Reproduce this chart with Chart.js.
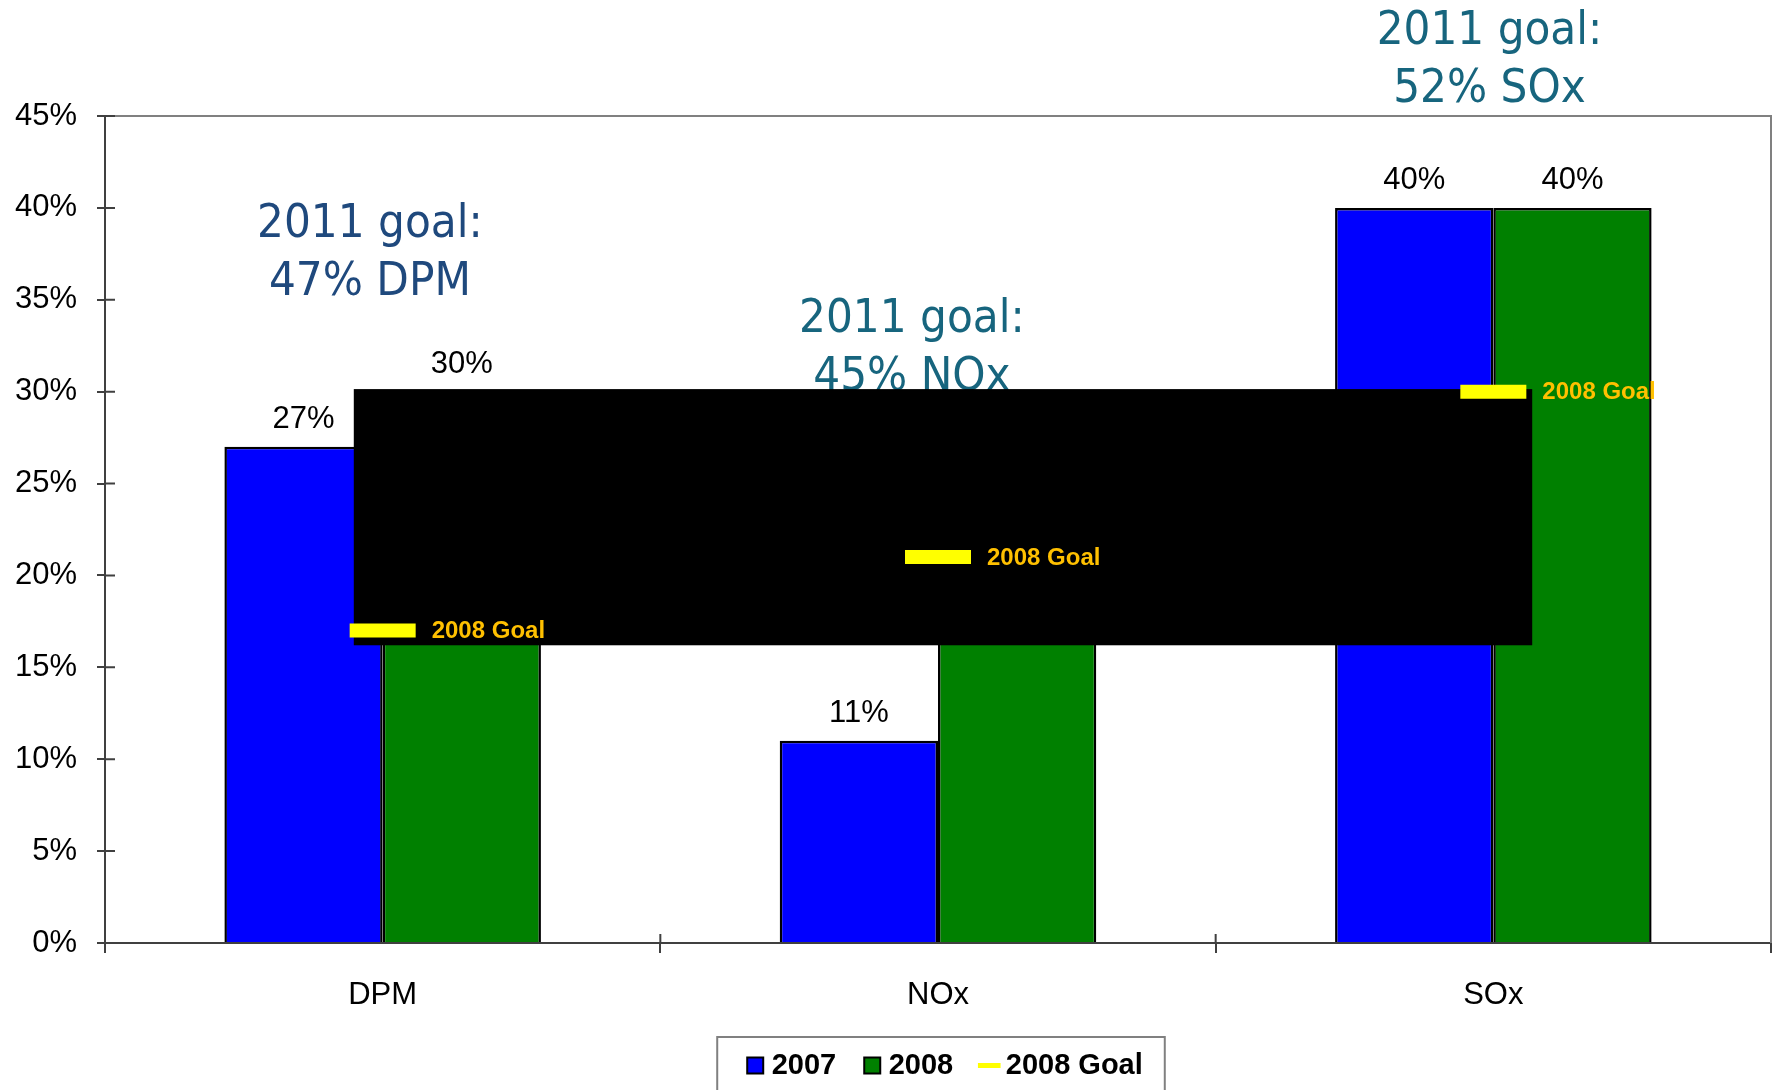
<!DOCTYPE html>
<html>
<head>
<meta charset="utf-8">
<script src="https://cdn.jsdelivr.net/npm/chart.js@4"></script>
<style>
  html, body { margin: 0; padding: 0; background: #fff; }
  canvas { display: block; }
</style>
</head>
<body>
<canvas id="myChart" width="1773" height="1090"></canvas>
<script>
const categories = ['DPM', 'NOx', 'SOx'];
const values2007 = [27, 11, 40];
const values2008 = [30, 22, 40];
const goals2008 = [17, 21, 30];
const yTicks = [0, 5, 10, 15, 20, 25, 30, 35, 40, 45];

// 2011 goal notes: category position and value of the first line
const goalNotes = [
    { cat: -0.023, y: 39.1, lines: ['2011 goal:', '47% DPM'], color: '#1F497D' },
    { cat: 0.953, y: 33.9, lines: ['2011 goal:', '45% NOx'], color: '#17657E' },
    { cat: 1.993, y: 49.6, lines: ['2011 goal:', '52% SOx'], color: '#17657E' }
];
// black block covering the middle of the original picture (category / value units)
const blackBox = { x0: -0.052, x1: 2.07, y0: 16.2, y1: 30.14 };

const font = 'Arial, "Liberation Sans", sans-serif';
const axisColor = '#404040';

const extras = {
    id: 'extras',
    afterLayout(chart) {
        // legend sits a bit right of centre in the original
        chart.legend.left += 10;
        chart.legend.right += 10;
    },
    beforeDatasetDraw(chart, args) {
        if (args.index !== 2) return;
        const { ctx } = chart;
        const x = chart.scales.x, y = chart.scales.y;
        ctx.save();
        // value labels above bars
        ctx.font = '31px ' + font;
        ctx.fillStyle = '#000';
        ctx.textAlign = 'center';
        ctx.textBaseline = 'middle';
        [0, 1].forEach(di => {
            const meta = chart.getDatasetMeta(di);
            meta.data.forEach((bar, i) => {
                const v = chart.data.datasets[di].data[i];
                ctx.fillText(v + '%', bar.x, bar.y - 27);
            });
        });
        // 2011 goal notes
        ctx.font = '47px "DejaVu Sans Condensed", "DejaVu Sans", sans-serif';
        goalNotes.forEach(n => {
            ctx.fillStyle = n.color;
            const px = x.getPixelForValue(n.cat);
            const py = y.getPixelForValue(n.y);
            n.lines.forEach((t, k) => ctx.fillText(t, px, py + k * 58));
        });
        // black block
        const bx0 = x.getPixelForValue(blackBox.x0), bx1 = x.getPixelForValue(blackBox.x1);
        const by0 = y.getPixelForValue(blackBox.y1), by1 = y.getPixelForValue(blackBox.y0);
        ctx.fillStyle = '#000';
        ctx.fillRect(bx0, by0, bx1 - bx0, by1 - by0);
        ctx.restore();
    },
    afterDatasetsDraw(chart) {
        const { ctx, chartArea } = chart;
        const x = chart.scales.x, y = chart.scales.y;
        ctx.save();
        // goal labels
        ctx.font = 'bold 24px ' + font;
        ctx.fillStyle = '#FFC000';
        ctx.textAlign = 'left';
        ctx.textBaseline = 'middle';
        chart.getDatasetMeta(2).data.forEach(pt => {
            ctx.fillText('2008 Goal', pt.x + 49, pt.y + 1);
        });
        // top and right frame
        ctx.strokeStyle = '#808080';
        ctx.lineWidth = 2;
        ctx.beginPath();
        ctx.moveTo(chartArea.left, chartArea.top);
        ctx.lineTo(chartArea.right, chartArea.top);
        ctx.lineTo(chartArea.right, chartArea.bottom);
        ctx.stroke();
        // inner half of tick marks
        ctx.strokeStyle = axisColor;
        ctx.beginPath();
        yTicks.forEach(v => {
            const py = y.getPixelForValue(v);
            ctx.moveTo(chartArea.left, py);
            ctx.lineTo(chartArea.left + 10, py);
        });
        for (let i = 0; i < categories.length - 1; i++) {
            const px = (x.getPixelForValue(i) + x.getPixelForValue(i + 1)) / 2;
            ctx.moveTo(px, chartArea.bottom);
            ctx.lineTo(px, chartArea.bottom - 9);
        }
        ctx.stroke();
        ctx.restore();
    },
    afterDraw(chart) {
        const boxes = chart.legend.legendHitBoxes;
        if (!boxes || !boxes.length) return;
        const { ctx } = chart;
        const first = boxes[0], last = boxes[boxes.length - 1];
        ctx.save();
        ctx.strokeStyle = '#808080';
        ctx.lineWidth = 2;
        const left = first.left - 36;
        const right = last.left + last.width + 22;
        const top = first.top - 14;
        ctx.strokeRect(left, top, right - left, chart.height - top + 10);
        ctx.restore();
    }
};

const ctx = document.getElementById('myChart').getContext('2d');
const myChart = new Chart(ctx, {
    type: 'bar',
    data: {
        labels: categories,
        datasets: [{
            label: '2007',
            data: values2007,
            backgroundColor: '#0000FF',
            borderColor: '#000',
            borderWidth: 2.5,
            pointStyle: 'rect'
        }, {
            label: '2008',
            data: values2008,
            backgroundColor: '#008000',
            borderColor: '#000',
            borderWidth: 2.5,
            pointStyle: 'rect'
        }, {
            type: 'line',
            label: '2008 Goal',
            data: goals2008,
            showLine: false,
            pointStyle: 'line',
            pointRadius: 33,
            pointHoverRadius: 33,
            pointBorderWidth: 14,
            pointBorderColor: '#FFFF00',
            pointBackgroundColor: '#FFFF00',
            borderColor: '#FFFF00',
            backgroundColor: '#FFFF00',
            order: -1
        }]
    },
    options: {
        responsive: false,
        animation: false,
        events: [],
        layout: { autoPadding: false, padding: { top: 116, right: 2, left: 0, bottom: 0 } },
        datasets: {
            bar: { categoryPercentage: 0.57, barPercentage: 1 }
        },
        plugins: {
            tooltip: { enabled: false },
            legend: {
                position: 'bottom',
                fullSize: false,
                labels: {
                    usePointStyle: true,
                    boxWidth: 4,
                    boxHeight: 16,
                    padding: 34,
                    color: '#000',
                    font: { family: font, size: 29, weight: 'bold' },
                    generateLabels(chart) {
                        const items = Chart.defaults.plugins.legend.labels.generateLabels(chart);
                        items.sort((a, b) => a.datasetIndex - b.datasetIndex);
                        items.forEach(it => {
                            if (it.datasetIndex === 2) {
                                it.lineWidth = 5;
                                it.strokeStyle = '#FFFF00';
                            } else {
                                it.lineWidth = 2;
                                it.strokeStyle = '#000';
                            }
                        });
                        return items;
                    }
                }
            }
        },
        scales: {
            x: {
                offset: true,
                border: { color: axisColor, width: 2 },
                grid: { offset: true, drawOnChartArea: false, tickLength: 10, color: axisColor, lineWidth: 2 },
                ticks: { color: '#000', font: { family: font, size: 31 }, padding: 24 },
                afterFit(s) { s.height = 74; }
            },
            y: {
                min: 0,
                max: 45,
                border: { color: axisColor, width: 2 },
                grid: { drawOnChartArea: false, tickLength: 8, color: axisColor, lineWidth: 2 },
                ticks: {
                    stepSize: 5,
                    color: '#000',
                    padding: 20,
                    font: { family: font, size: 31 },
                    callback: v => v + '%'
                },
                afterFit(s) { s.width = 105; }
            }
        }
    },
    plugins: [extras]
});
</script>
</body>
</html>
